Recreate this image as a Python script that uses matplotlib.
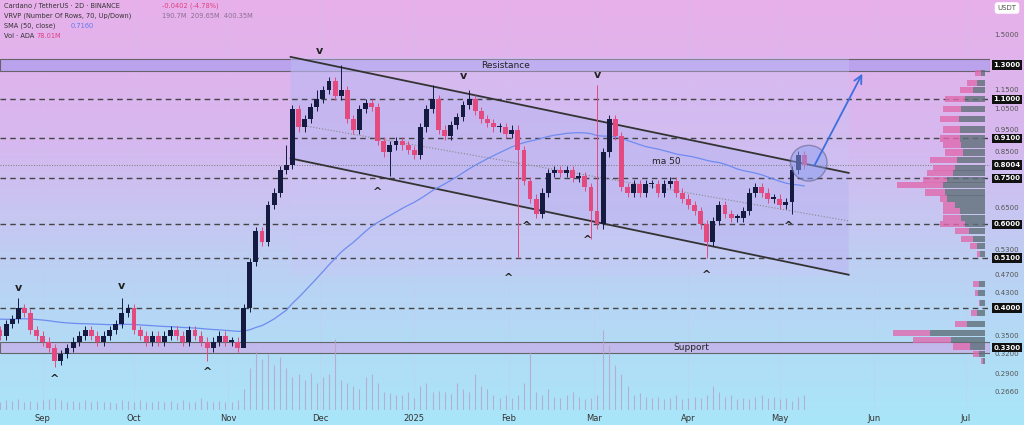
import numpy as np
import pandas as pd
import matplotlib.pyplot as plt
import matplotlib.transforms as mtransforms
from matplotlib.colors import LinearSegmentedColormap
from matplotlib.patches import Ellipse, FancyArrowPatch, Polygon, Rectangle

# ---- data (days counted from 2024-09-01, one candle per 2 days) ----
start_day = -14
closes = [0.35, 0.37, 0.38, 0.40, 0.39, 0.36, 0.35,
          0.34, 0.33, 0.31, 0.32, 0.33, 0.34, 0.35, 0.36, 0.35, 0.34, 0.35, 0.36, 0.37, 0.39, 0.40,
          0.36, 0.35, 0.34, 0.35, 0.34, 0.35, 0.36, 0.35, 0.34, 0.36, 0.35, 0.34, 0.33, 0.34, 0.35, 0.34,
          0.34, 0.33, 0.40, 0.50, 0.58, 0.55, 0.66, 0.70, 0.78, 0.80, 1.05, 0.96, 1.00, 1.06, 1.10,
          1.15, 1.20, 1.12, 1.15, 1.00, 0.95, 1.05, 1.08, 1.06, 0.90, 0.85, 0.88, 0.90, 0.88, 0.86, 0.84,
          0.96, 1.05, 1.10, 0.95, 0.92, 0.97, 1.01, 1.07, 1.10, 1.04, 1.00, 0.98, 0.96, 0.96, 0.93, 0.95,
          0.86, 0.74, 0.68, 0.63, 0.70, 0.77, 0.78, 0.77, 0.78, 0.75, 0.76, 0.72, 0.64, 0.60,
          0.85, 1.00, 0.92, 0.72, 0.70, 0.73, 0.70, 0.73, 0.73, 0.70, 0.73, 0.74, 0.70, 0.68, 0.66,
          0.64, 0.60, 0.55, 0.61, 0.66, 0.63, 0.62, 0.62, 0.64, 0.70, 0.72, 0.70, 0.68, 0.68, 0.66, 0.67,
          0.78, 0.84, 0.80]
wick_highs = {3: 0.42, 20: 0.42, 47: 0.88, 52: 1.15, 56: 1.30, 71: 1.18, 77: 1.15, 98: 1.18}
wick_lows = {9: 0.30, 34: 0.31, 40: 0.36, 64: 0.76, 85: 0.51, 97: 0.56, 116: 0.51, 130: 0.63}
volumes = [14, 16, 15, 18, 14, 15, 13, 16, 18, 20, 16, 14, 15, 13, 16, 14, 15, 13, 14, 12, 17,
           15, 13, 16, 14, 13, 15, 14, 15, 12, 16, 14, 13, 20, 15, 14, 15, 13, 14, 16, 35, 70, 100,
           85, 95, 75, 90, 70, 55, 60, 50, 62, 45, 55, 60, 120, 50, 45, 40, 35, 55, 60, 45, 30, 28,
           26, 25, 30, 20, 40, 45, 30, 32, 30, 27, 45, 35, 30, 60, 40, 35, 25, 20, 25, 20, 25, 45,
           100, 30, 25, 35, 22, 20, 25, 30, 22, 18, 20, 25, 135, 110, 75, 60, 40, 25, 28, 22, 20,
           22, 18, 20, 25, 18, 20, 22, 20, 25, 40, 30, 22, 25, 18, 20, 18, 22, 25, 20, 22, 18, 20,
           15, 22, 25, 16]
price_ticks = [1.5, 1.15, 1.05, 0.95, 0.85, 0.65, 0.53, 0.47, 0.43, 0.35, 0.32, 0.29, 0.266]
key_levels = [1.3, 1.1, 0.91, 0.8004, 0.75, 0.6, 0.51, 0.4, 0.33]
dashed_levels = [1.1, 0.91, 0.75, 0.6, 0.51, 0.4]
month_labels = ['Sep', 'Oct', 'Nov', 'Dec', '2025', 'Feb', 'Mar', 'Apr', 'May', 'Jun', 'Jul']
month_days = [0, 30, 61, 91, 122, 153, 181, 212, 242, 273, 303]
profile_prices = [1.25, 1.19, 1.15, 1.10, 1.05, 1.00, 0.95, 0.91, 0.88, 0.85, 0.82, 0.79, 0.77, 0.745,
                  0.725, 0.70, 0.68, 0.66, 0.64, 0.62, 0.60, 0.58, 0.56, 0.54, 0.52, 0.45, 0.43, 0.41,
                  0.39, 0.37, 0.355, 0.343, 0.332, 0.32, 0.31]
profile_gray = [4, 8, 12, 20, 24, 26, 25, 25, 24, 22, 28, 30, 32, 38, 42, 40, 38, 30, 25, 24, 20, 16,
                12, 8, 5, 6, 7, 5, 8, 18, 55, 34, 15, 6, 2]
profile_pink = [10, 18, 25, 40, 42, 45, 42, 45, 42, 40, 55, 52, 58, 62, 88, 60, 45, 42, 42, 42, 45, 30,
                24, 15, 8, 12, 10, 6, 14, 30, 92, 72, 32, 12, 4]

bull = '#141a40'
bear = '#e24a80'

fig = plt.figure(figsize=(10.24, 4.25), dpi=100)
# gradient background
bg = fig.add_axes([0, 0, 1, 1], zorder=-5)
grad = np.linspace(0, 1, 256).reshape(-1, 1)
cmap = LinearSegmentedColormap.from_list('bg', ['#a9e6f9', '#b9d3f4', '#d6b8ef', '#e8b0ea'])
bg.imshow(grad, aspect='auto', cmap=cmap, origin='lower', extent=[0, 1, 0, 1])
bg.axis('off')

ax = fig.add_axes([0, 15 / 425, 990 / 1024, 410 / 425])
ax.patch.set_alpha(0)
ax.set_yscale('log')
ax.set_xlim(-14, 311)
ax.set_ylim(0.244, 1.78)
for s in ax.spines.values():
    s.set_visible(False)
ax.set_yticks([])
ax.set_yticks([], minor=True)
ax.set_xticks(month_days)
ax.set_xticklabels(month_labels, fontsize=6, color='#333333')
ax.tick_params(axis='x', length=0, pad=3)
for d in month_days:
    ax.axvline(d, color='#c8c8e8', lw=0.5, alpha=0.5, zorder=0)

# volume on twin axis
vax = ax.twinx()
vax.set_ylim(0, 690)
vax.axis('off')
days = start_day + 2 * np.arange(len(closes))
vax.vlines(days[:len(volumes)], 0, volumes[:len(days)], color='#b7a2c6', lw=0.8, alpha=0.8)

# bands
ax.axhspan(1.26, 1.335, color='#b5a0ee', alpha=0.85, zorder=1, ec='#555555', lw=0.8)
ax.text(152, 1.295, 'Resistance', fontsize=6.5, ha='center', va='center', color='#222222', zorder=6)
ax.axhspan(0.322, 0.339, color='#c4b4ea', alpha=0.85, zorder=1, ec='#555555', lw=0.8)
ax.text(213, 0.331, 'Support', fontsize=6.5, ha='center', va='center', color='#222222', zorder=6)
for lv in dashed_levels:
    ax.axhline(lv, color='#444444', ls=(0, (4, 3)), lw=1.0, zorder=2)
ax.axhline(0.8004, color='#777777', ls=':', lw=0.7, zorder=2)

# channel
ch_x = [81.4, 264.6]
up_y = [1.351, 0.770]
lo_y = [0.826, 0.470]
ax.add_patch(Rectangle((81.4, 0.47), 183.2, 1.351 - 0.47, color='#c9c6f6', alpha=0.35, zorder=1, lw=0))
ax.add_patch(Polygon([(ch_x[0], up_y[0]), (ch_x[1], up_y[1]), (ch_x[1], lo_y[1]), (ch_x[0], lo_y[0])],
                     closed=True, color='#b6b2f0', alpha=0.45, zorder=1, lw=0))
ax.plot(ch_x, up_y, color='#333333', lw=1.3, zorder=4)
ax.plot(ch_x, lo_y, color='#333333', lw=1.3, zorder=4)
ax.plot([85, 264.6], [0.97, 0.61], color='#888888', ls=':', lw=0.8, zorder=3)

# candles
opens = [0.36] + closes[:-1]
for i, (d, o, c) in enumerate(zip(days, opens, closes)):
    col = bull if c >= o else bear
    hi = wick_highs.get(i, max(o, c) * 1.02)
    lo = wick_lows.get(i, min(o, c) * 0.98)
    ax.vlines(d, lo, hi, color=col, lw=0.7, zorder=5)
    b0, b1 = min(o, c), max(o, c)
    if b1 / b0 < 1.006:
        b1 = b0 * 1.006
    ax.add_patch(Rectangle((d - 0.8, b0), 1.6, b1 - b0, color=col, zorder=5, lw=0))

# ma 50
ma = pd.Series([0.38] * 30 + closes).rolling(50, min_periods=1).mean().iloc[30:]
ax.plot(days, ma, color='#6e8cf0', lw=0.9, zorder=4)
ax.text(200, 0.805, 'ma 50', fontsize=6.5, color='#222222', zorder=6)

# pivots
tops = [(-8, 0.43), (26, 0.435), (91, 1.36), (138, 1.2), (182, 1.21)]
bots = [(4, 0.29), (54, 0.30), (110, 0.72), (153, 0.475), (159, 0.61), (179, 0.57), (218, 0.48), (245, 0.61)]
for d, p in tops:
    ax.text(d, p, 'v', ha='center', va='bottom', fontsize=8, fontweight='bold', color='#222222', zorder=6)
for d, p in bots:
    ax.text(d, p, '^', ha='center', va='top', fontsize=8, fontweight='bold', color='#222222', zorder=6)

# breakout circle and arrow
ax.add_patch(Ellipse((251.5, 0.81), 12, 0.14, fc='#8e9ef0', ec='#555577', alpha=0.5, lw=1, zorder=6))
ax.add_patch(FancyArrowPatch((253, 0.79), (269.5, 1.26), arrowstyle='->', mutation_scale=14,
                             color='#3d6fe0', lw=1.3, zorder=7))

# volume profile
trans = mtransforms.blended_transform_factory(fig.transFigure, ax.transData)
right = 985 / 1024
for p, g, k in zip(profile_prices, profile_gray, profile_pink):
    h = p * 0.03
    ax.add_patch(Rectangle((right - k / 1024, p - h / 2), (k - g) / 1024, h, transform=trans,
                           color='#e06aae', alpha=0.8, lw=0, zorder=3))
    ax.add_patch(Rectangle((right - g / 1024, p - h / 2), g / 1024, h, transform=trans,
                           color='#5f6f78', alpha=0.8, lw=0, zorder=3))

# right price labels
rx = 1007 / 1024
for t in price_ticks:
    ax.text(rx, t, f'{t:.4f}', transform=trans, fontsize=5, ha='center', va='center',
            color='#555555', clip_on=False)
for lv in key_levels:
    ax.text(rx, lv, f'{lv:.4f}', transform=trans, fontsize=5, ha='center', va='center',
            color='white', clip_on=False, fontweight='bold',
            bbox=dict(boxstyle='square,pad=0.25', fc='#111111', ec='none'))
fig.text(1007 / 1024, 1 - 8 / 425, 'USDT', fontsize=5, ha='center', va='center', color='#555555',
         bbox=dict(boxstyle='round,pad=0.4', fc='white', ec='none'))

# legend text
fig.text(0.004, 1 - 6 / 425, 'Cardano / TetherUS · 2D · BINANCE', fontsize=4.8, color='#333333', va='center')
fig.text(0.158, 1 - 6 / 425, '-0.0402 (-4.78%)', fontsize=4.8, color='#e0407e', va='center')
fig.text(0.004, 1 - 16 / 425, 'VRVP (Number Of Rows, 70, Up/Down)', fontsize=4.8, color='#333333', va='center')
fig.text(0.158, 1 - 16 / 425, '190.7M  209.65M  400.35M', fontsize=4.8, color='#8a7090', va='center')
fig.text(0.004, 1 - 26 / 425, 'SMA (50, close)', fontsize=4.8, color='#333333', va='center')
fig.text(0.069, 1 - 26 / 425, '0.7160', fontsize=4.8, color='#5a7cf0', va='center')
fig.text(0.004, 1 - 36 / 425, 'Vol · ADA', fontsize=4.8, color='#333333', va='center')
fig.text(0.036, 1 - 36 / 425, '78.01M', fontsize=4.8, color='#e0407e', va='center')

fig.savefig('out.png', dpi=100)
